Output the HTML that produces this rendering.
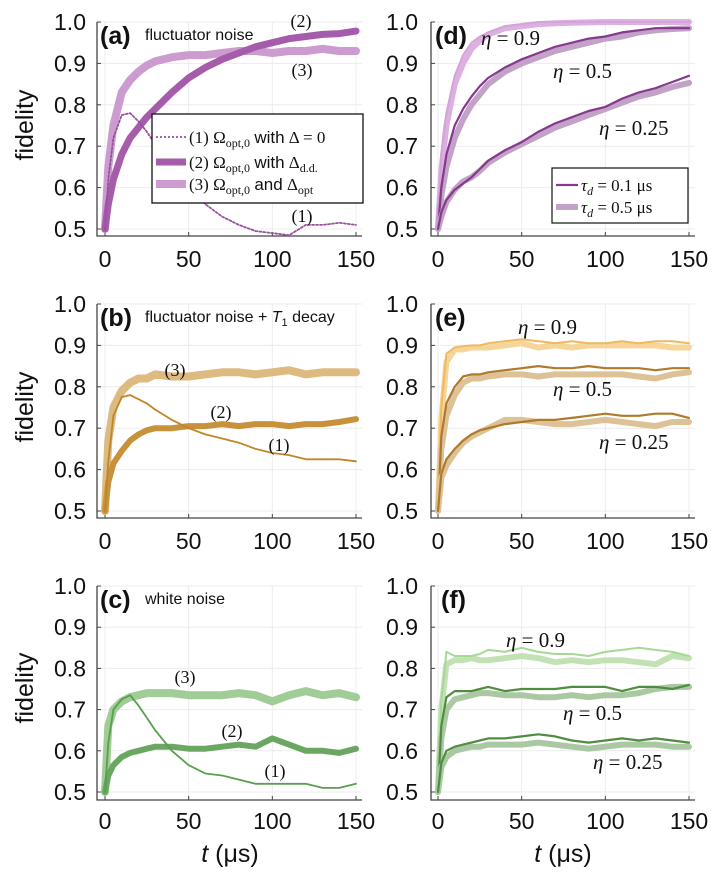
<!DOCTYPE html>
<html><head><meta charset="utf-8">
<style>
html,body{margin:0;padding:0;background:#fff;}
svg{display:block;}
.tick{font-family:"Liberation Sans",sans-serif;font-size:23px;fill:#111;}
.ylab{font-family:"Liberation Sans",sans-serif;font-size:25px;fill:#111;}
.plab{font-family:"Liberation Sans",sans-serif;font-size:25px;font-weight:bold;fill:#111;}
.ptitle{font-family:"Liberation Sans",sans-serif;font-size:16px;fill:#111;}
.ann{font-family:"Liberation Serif",serif;font-size:18px;fill:#111;}
.eta{font-family:"Liberation Serif",serif;font-size:21px;fill:#111;}
.leg{font-family:"Liberation Serif",serif;font-size:17px;fill:#111;}
</style></head>
<body>
<svg id="fig" width="716" height="880" viewBox="0 0 716 880" xmlns="http://www.w3.org/2000/svg"></svg>
<script>
const T = [0,2,5,10,15,20,25,30,40,50,60,70,80,90,100,110,120,130,140,150];
const xTicks = [0,50,100,150];
const yTicks = [0.5,0.6,0.7,0.8,0.9,1.0];
const yTickLabels = ["0.5","0.6","0.7","0.8","0.9","1.0"];
// panel a
const a1 = [0.5,0.62,0.72,0.775,0.78,0.76,0.735,0.705,0.645,0.60,0.56,0.53,0.51,0.495,0.49,0.485,0.51,0.51,0.515,0.51];
const a2 = [0.5,0.56,0.62,0.68,0.72,0.745,0.77,0.79,0.83,0.865,0.89,0.91,0.925,0.94,0.95,0.96,0.965,0.97,0.972,0.978];
const a3 = [0.5,0.65,0.75,0.83,0.86,0.88,0.895,0.905,0.915,0.92,0.92,0.925,0.93,0.93,0.925,0.93,0.93,0.935,0.93,0.93];
// panel b
const b1 = [0.5,0.62,0.73,0.775,0.78,0.77,0.76,0.745,0.72,0.70,0.685,0.675,0.665,0.65,0.64,0.635,0.625,0.625,0.625,0.62];
const b2 = [0.5,0.57,0.615,0.645,0.67,0.685,0.695,0.70,0.70,0.705,0.705,0.71,0.705,0.71,0.71,0.705,0.71,0.71,0.715,0.722];
const b3 = [0.5,0.67,0.75,0.79,0.81,0.82,0.82,0.83,0.825,0.825,0.83,0.835,0.835,0.83,0.835,0.84,0.83,0.835,0.835,0.835];
// panel c
const c1 = [0.5,0.62,0.70,0.725,0.735,0.71,0.68,0.65,0.60,0.565,0.545,0.54,0.53,0.52,0.52,0.52,0.52,0.51,0.51,0.52];
const c2 = [0.5,0.54,0.565,0.585,0.595,0.60,0.605,0.61,0.61,0.605,0.605,0.61,0.615,0.61,0.63,0.615,0.60,0.60,0.595,0.605];
const c3 = [0.5,0.66,0.70,0.72,0.73,0.735,0.74,0.74,0.74,0.735,0.735,0.735,0.74,0.735,0.72,0.735,0.745,0.735,0.74,0.73];
// panel d (a = tau 0.1, b = tau 0.5)
const d9a = [0.5,0.68,0.78,0.87,0.92,0.95,0.965,0.975,0.99,0.995,1,1,1,1,1,1,1,1,1,1];
const d9b = [0.5,0.64,0.75,0.85,0.90,0.935,0.955,0.97,0.985,0.99,0.995,0.997,0.998,0.999,1,1,1,1,1,1];
const d5a = [0.5,0.6,0.68,0.75,0.79,0.82,0.845,0.865,0.89,0.91,0.925,0.94,0.95,0.96,0.965,0.975,0.98,0.985,0.985,0.985];
const d5b = [0.5,0.58,0.65,0.72,0.765,0.80,0.825,0.85,0.88,0.90,0.915,0.93,0.94,0.95,0.96,0.965,0.975,0.98,0.983,0.985];
const d25a = [0.5,0.54,0.57,0.595,0.61,0.625,0.645,0.665,0.69,0.71,0.735,0.755,0.77,0.785,0.795,0.815,0.83,0.84,0.855,0.87];
const d25b = [0.5,0.53,0.565,0.595,0.615,0.625,0.64,0.66,0.685,0.705,0.725,0.745,0.76,0.775,0.79,0.805,0.82,0.83,0.843,0.853];
// panel e
const e9a = [0.5,0.75,0.88,0.895,0.898,0.9,0.9,0.905,0.91,0.915,0.91,0.905,0.91,0.905,0.905,0.91,0.905,0.91,0.91,0.905];
const e9b = [0.5,0.72,0.86,0.89,0.89,0.895,0.895,0.895,0.9,0.905,0.895,0.9,0.895,0.9,0.9,0.9,0.9,0.9,0.895,0.895];
const e5a = [0.5,0.68,0.76,0.80,0.825,0.83,0.83,0.835,0.84,0.845,0.85,0.845,0.845,0.85,0.845,0.845,0.845,0.84,0.845,0.845];
const e5b = [0.5,0.65,0.73,0.78,0.81,0.82,0.82,0.825,0.83,0.83,0.825,0.83,0.83,0.83,0.83,0.83,0.825,0.82,0.83,0.835];
const e25a = [0.5,0.59,0.625,0.65,0.67,0.685,0.695,0.70,0.71,0.715,0.72,0.72,0.725,0.73,0.735,0.73,0.73,0.735,0.735,0.725];
const e25b = [0.5,0.58,0.61,0.64,0.665,0.68,0.69,0.70,0.72,0.72,0.715,0.71,0.71,0.715,0.72,0.715,0.71,0.705,0.715,0.715];
// panel f
const f9a = [0.5,0.72,0.84,0.83,0.83,0.83,0.835,0.845,0.84,0.85,0.84,0.835,0.835,0.83,0.84,0.845,0.85,0.845,0.84,0.83];
const f9b = [0.5,0.7,0.81,0.82,0.82,0.825,0.82,0.82,0.825,0.83,0.825,0.815,0.82,0.815,0.82,0.82,0.815,0.81,0.83,0.825];
const f5a = [0.5,0.66,0.73,0.745,0.745,0.745,0.75,0.755,0.745,0.75,0.75,0.75,0.755,0.755,0.755,0.745,0.755,0.755,0.75,0.76];
const f5b = [0.5,0.63,0.70,0.725,0.73,0.735,0.74,0.74,0.735,0.735,0.73,0.73,0.735,0.73,0.735,0.735,0.74,0.75,0.755,0.755];
const f25a = [0.5,0.57,0.60,0.61,0.615,0.62,0.625,0.63,0.63,0.635,0.64,0.635,0.625,0.62,0.625,0.63,0.625,0.63,0.625,0.62];
const f25b = [0.5,0.56,0.585,0.60,0.605,0.61,0.61,0.615,0.615,0.615,0.62,0.615,0.61,0.605,0.61,0.615,0.615,0.615,0.61,0.61];

const NS = "http://www.w3.org/2000/svg";
const svg = document.getElementById('fig');
function mk(tag, attrs, parent){
  const e = document.createElementNS(NS, tag);
  for (const k in attrs) e.setAttribute(k, attrs[k]);
  (parent||svg).appendChild(e);
  return e;
}
const cols = [{x0:105,x1:356,left:97,right:362,tickX:86},{x0:438,x1:689,left:431,right:695,tickX:418}];
const rows = [{y1:22,y05:229,top:22,bottom:236,xlab:267},{y1:304,y05:511,top:304,bottom:518,xlab:549},{y1:586,y05:792,top:586,bottom:800,xlab:829}];

function makePanel(ci, ri, name){
  const c = cols[ci], r = rows[ri];
  const sx = v => c.x0 + (c.x1-c.x0)*v/150;
  const sy = v => r.y05 - (r.y05-r.y1)*(v-0.5)/0.5;
  const g = mk('g', {});
  
  
  xTicks.forEach(t => {
    const l = mk('line', {x1:sx(t),x2:sx(t),y1:r.top,y2:r.bottom,stroke:'#ececec','stroke-width':1}, g);
    
    
    const tk = mk('line', {x1:sx(t),x2:sx(t),y1:r.bottom,y2:r.bottom-4,stroke:'#444','stroke-width':1}, g);
    
    
    const tx = mk('text', {x:sx(t), y:r.xlab, 'text-anchor':'middle', class:'tick'}, g);
    tx.textContent = String(t);
    
    
  });
  yTicks.forEach((v,i) => {
    const l = mk('line', {x1:c.left,x2:c.right,y1:sy(v),y2:sy(v),stroke:'#ececec','stroke-width':1}, g);
    
    
    const tk = mk('line', {x1:c.left,x2:c.left+4,y1:sy(v),y2:sy(v),stroke:'#444','stroke-width':1}, g);
    
    
    const tx = mk('text', {x:c.tickX, y:sy(v)+8, 'text-anchor':'end', class:'tick'}, g);
    tx.textContent = yTickLabels[i];
    
    
  });
  const ax = mk('path', {d:`M${c.left},${r.top}V${r.bottom}H${c.right}`, fill:'none', stroke:'#444', 'stroke-width':1.3}, g);
  
  
  return {g, sx, sy, c, r};
}
function series(p, vals, color, width, name, dash){
  let d = '';
  vals.forEach((v,i) => { d += (i?'L':'M') + p.sx(T[i]).toFixed(1) + ',' + p.sy(v).toFixed(1); });
  const attrs = {d, fill:'none', stroke:color, 'stroke-width':width, 'stroke-linejoin':'round', 'stroke-linecap':'round'};
  if (dash) attrs['stroke-dasharray'] = dash;
  const e = mk('path', attrs, p.g);
  
  
  return e;
}
function txt(parent, x, y, s, cls, name, anchor){
  const e = mk('text', {x, y, class:cls, 'text-anchor':anchor||'start'}, parent);
  e.innerHTML = s;
  
  
  return e;
}
const SUB = s => `<tspan font-size="12" baseline-shift="-4">${s}</tspan>`;
const ETA = v => `<tspan font-style="italic">η</tspan> = ${v}`;

// Panel a
const pa = makePanel(0,0,'a');
series(pa, a3, '#cc9cd0', 8, 'series-a-3');
series(pa, a2, '#a45cab', 7, 'series-a-2');
series(pa, a1, '#9a4fa0', 1.8, 'series-a-1', '2,2');
txt(pa.g, 100, 44, '(a)', 'plab', 'panel-label-a');
txt(pa.g, 145, 40, 'fluctuator noise', 'ptitle', 'panel-title-a');
txt(pa.g, 301, 27, '(2)', 'ann', 'annotation-a-2', 'middle');
txt(pa.g, 302, 76, '(3)', 'ann', 'annotation-a-3', 'middle');
txt(pa.g, 302, 222, '(1)', 'ann', 'annotation-a-1', 'middle');
const legA = mk('g', {}, pa.g);


const lbA = mk('rect', {x:152, y:114, width:211, height:89, fill:'#fff', stroke:'#111', 'stroke-width':1.3}, legA);


[['#9a4fa0',1.8,'2,2','(1) Ω'+SUB('opt,0')+' <tspan font-family="Liberation Sans">with</tspan> Δ = 0',137],
 ['#a45cab',7,null,'(2) Ω'+SUB('opt,0')+' <tspan font-family="Liberation Sans">with</tspan> Δ'+SUB('d.d.'),162],
 ['#cc9cd0',8,null,'(3) Ω'+SUB('opt,0')+' <tspan font-family="Liberation Sans">and</tspan> Δ'+SUB('opt'),184]].forEach((e,i)=>{
  const at = {x1:156,x2:186,y1:e[4],y2:e[4],stroke:e[0],'stroke-width':e[1]};
  if (e[2]) at['stroke-dasharray'] = e[2];
  const l = mk('line', at, legA);
  
  
  txt(legA, 189, e[4]+6, e[3], 'leg', 'legend-entry');
});

// Panel b
const pb = makePanel(0,1,'b');
series(pb, b3, '#dcba80', 8, 'series-b-3');
series(pb, b2, '#c8923c', 6, 'series-b-2');
series(pb, b1, '#c0862a', 1.8, 'series-b-1');
txt(pb.g, 100, 326, '(b)', 'plab', 'panel-label-b');
txt(pb.g, 145, 322, 'fluctuator noise + <tspan font-style="italic">T</tspan><tspan font-size="11" baseline-shift="-4">1</tspan> decay', 'ptitle', 'panel-title-b');
txt(pb.g, 175, 376, '(3)', 'ann', 'annotation-b-3', 'middle');
txt(pb.g, 221, 418, '(2)', 'ann', 'annotation-b-2', 'middle');
txt(pb.g, 279, 451, '(1)', 'ann', 'annotation-b-1', 'middle');

// Panel c
const pc = makePanel(0,2,'c');
series(pc, c3, '#a0cc96', 8, 'series-c-3');
series(pc, c2, '#6aa862', 6, 'series-c-2');
series(pc, c1, '#5a9e50', 1.8, 'series-c-1');
txt(pc.g, 100, 608, '(c)', 'plab', 'panel-label-c');
txt(pc.g, 145, 604, 'white noise', 'ptitle', 'panel-title-c');
txt(pc.g, 185, 683, '(3)', 'ann', 'annotation-c-3', 'middle');
txt(pc.g, 232, 737, '(2)', 'ann', 'annotation-c-2', 'middle');
txt(pc.g, 275, 777, '(1)', 'ann', 'annotation-c-1', 'middle');

// Panel d
const pd = makePanel(1,0,'d');
series(pd, d9b, '#dcb0e0', 6, 'series-d-eta09-tau05');
series(pd, d9a, '#d6a2da', 2, 'series-d-eta09-tau01');
series(pd, d5b, '#c2a2c6', 6, 'series-d-eta05-tau05');
series(pd, d5a, '#87388f', 2.2, 'series-d-eta05-tau01');
series(pd, d25b, '#c2a2c6', 6, 'series-d-eta025-tau05');
series(pd, d25a, '#87388f', 2.2, 'series-d-eta025-tau01');
txt(pd.g, 435, 44, '(d)', 'plab', 'panel-label-d');
txt(pd.g, 481, 45, ETA('0.9'), 'eta', 'annotation-d-eta09');
txt(pd.g, 553, 78, ETA('0.5'), 'eta', 'annotation-d-eta05');
txt(pd.g, 599, 135, ETA('0.25'), 'eta', 'annotation-d-eta025');
const legD = mk('g', {}, pd.g);


const lbD = mk('rect', {x:552, y:168, width:136, height:55, fill:'#fff', stroke:'#111', 'stroke-width':1.2}, legD);


[['#87388f',2.2,'<tspan font-style="italic">τ</tspan>'+SUB('<tspan font-style="italic">d</tspan>')+' = 0.1 μs',185],
 ['#c2a2c6',6,'<tspan font-style="italic">τ</tspan>'+SUB('<tspan font-style="italic">d</tspan>')+' = 0.5 μs',207]].forEach(e=>{
  const l = mk('line', {x1:556,x2:578,y1:e[3],y2:e[3],stroke:e[0],'stroke-width':e[1]}, legD);
  
  
  txt(legD, 581, e[3]+6, e[2], 'leg', 'legend-entry');
});

// Panel e
const pe = makePanel(1,1,'e');
series(pe, e9b, '#f5d59a', 6, 'series-e-eta09-tau05');
series(pe, e9a, '#f0b860', 2, 'series-e-eta09-tau01');
series(pe, e5b, '#dcc296', 6, 'series-e-eta05-tau05');
series(pe, e5a, '#b07a2a', 2.2, 'series-e-eta05-tau01');
series(pe, e25b, '#dcc296', 6, 'series-e-eta025-tau05');
series(pe, e25a, '#b07a2a', 2.2, 'series-e-eta025-tau01');
txt(pe.g, 435, 326, '(e)', 'plab', 'panel-label-e');
txt(pe.g, 518, 334, ETA('0.9'), 'eta', 'annotation-e-eta09');
txt(pe.g, 553, 396, ETA('0.5'), 'eta', 'annotation-e-eta05');
txt(pe.g, 599, 449, ETA('0.25'), 'eta', 'annotation-e-eta025');

// Panel f
const pf = makePanel(1,2,'f');
series(pf, f9b, '#c2e2b6', 6, 'series-f-eta09-tau05');
series(pf, f9a, '#a6d896', 2, 'series-f-eta09-tau01');
series(pf, f5b, '#aac8a2', 6, 'series-f-eta05-tau05');
series(pf, f5a, '#4e8e3e', 2.2, 'series-f-eta05-tau01');
series(pf, f25b, '#aac8a2', 6, 'series-f-eta025-tau05');
series(pf, f25a, '#4e8e3e', 2.2, 'series-f-eta025-tau01');
txt(pf.g, 441, 608, '(f)', 'plab', 'panel-label-f');
txt(pf.g, 506, 647, ETA('0.9'), 'eta', 'annotation-f-eta09');
txt(pf.g, 563, 720, ETA('0.5'), 'eta', 'annotation-f-eta05');
txt(pf.g, 593, 769, ETA('0.25'), 'eta', 'annotation-f-eta025');

// Y axis titles
[125,407,688].forEach(y=>{
  const e = mk('text', {x:0,y:0,class:'ylab','text-anchor':'middle',transform:`translate(33,${y}) rotate(-90)`});
  e.textContent = 'fidelity';
  
  
});
// X axis titles
[[230,'x-axis-title-left'],[563,'x-axis-title-right']].forEach(a=>{
  const e = mk('text', {x:a[0], y:862, class:'ylab', 'text-anchor':'middle'});
  e.innerHTML = '<tspan font-style="italic">t</tspan> (μs)';
  
  
});
</script>
</body></html>
